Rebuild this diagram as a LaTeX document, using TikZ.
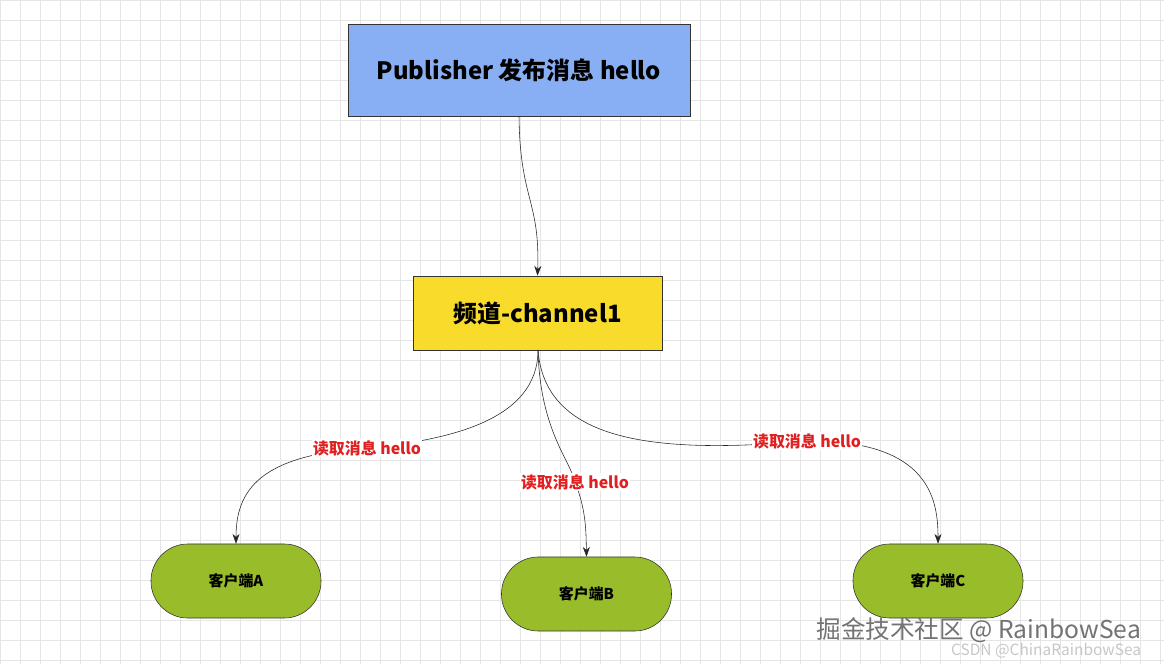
\documentclass[tikz,border=0pt]{standalone}
\usepackage{fontspec}
\setmainfont{Noto Sans CJK SC}
\usetikzlibrary{arrows.meta}
\definecolor{pubblue}{HTML}{88AEF4}
\definecolor{chyellow}{HTML}{F9DC2B}
\definecolor{cligreen}{HTML}{99BC2A}
\definecolor{lblred}{HTML}{E02020}
\tikzset{
  box/.style={draw=black!80, inner sep=0pt},
  client/.style={draw=black!80, fill=cligreen, rounded corners=0.92cm, minimum width=4.25cm, minimum height=1.85cm, font=\bfseries\fontsize{10.6}{12}\selectfont},
  lbl/.style={fill=white, inner sep=1pt, text=lblred, font=\bfseries\fontsize{11.3}{13}\selectfont},
  link/.style={-{Stealth[length=7pt,width=5pt]}, black!85, thin}
}
\begin{document}
\begin{tikzpicture}[x=0.025cm, y=-0.025cm]
\useasboundingbox (0,0) rectangle (1164,664);
\fill[white] (0,0) rectangle (1164,664);
\foreach \gx in {0,20,...,1160} \draw[black!10] (\gx,0) -- (\gx,664);
\foreach \gy in {0,20,...,660} \draw[black!10] (0,\gy) -- (1164,\gy);

\node[box, fill=pubblue, minimum width=8.55cm, minimum height=2.3cm, font=\bfseries\fontsize{17}{20}\selectfont] (pub) at (519,70) {Publisher 发布消息 hello};
\node[box, fill=chyellow, minimum width=6.22cm, minimum height=1.85cm, font=\bfseries\fontsize{17}{20}\selectfont] (ch) at (537.5,313) {频道-channel1};
\node[client] (a) at (236,581) {客户端A};
\node[client] (b) at (586.5,594) {客户端B};
\node[client] (c) at (938,581) {客户端C};

\coordinate (chout) at (538,350);
\draw[link] (pub.south) .. controls (520,200) and (540,200) .. (ch.north);
\draw[link] (chout) .. controls (538,420) and (450,440) .. (367,448) .. controls (260,455) and (236,490) .. (a.north);
\draw[link] (chout) .. controls (540,430) and (570,460) .. (575,482) .. controls (586,510) and (586,530) .. (b.north);
\draw[link] (chout) .. controls (545,440) and (650,455) .. (807,441) .. controls (930,440) and (938,500) .. (c.north);
\node[lbl] (la) at (367,448) {读取消息 hello};
\node[lbl] (lb) at (575,482) {读取消息 hello};
\node[lbl] (lc) at (807,441) {读取消息 hello};

\node[text=black!55, anchor=east, font=\fontsize{17.5}{19}\selectfont] (wm) at (1146,630) {掘金技术社区 @ RainbowSea};
\node[text=black!22, anchor=east, font=\fontsize{11}{12}\selectfont] (wm2) at (1146,651) {CSDN @ChinaRainbowSea};
\end{tikzpicture}
\end{document}
